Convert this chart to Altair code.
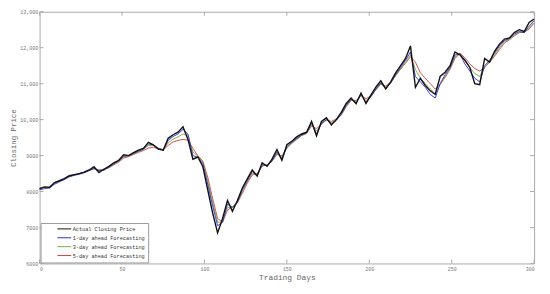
import altair as alt
import pandas as pd

days = list(range(0, 301, 3))

actual = [8080, 8130, 8110, 8250, 8300, 8360, 8440, 8470, 8500, 8540,
          8600, 8690, 8530, 8620, 8700, 8800, 8870, 9020, 9000, 9080,
          9150, 9200, 9370, 9300, 9180, 9150, 9480, 9580, 9650, 9800,
          9450, 8900, 8960, 8700, 8050, 7400, 6850, 7250, 7750, 7450,
          7750, 8100, 8350, 8600, 8430, 8800, 8700, 8900, 9170, 8870,
          9300, 9400, 9520, 9600, 9650, 9950, 9550, 9950, 10050, 9850,
          10000, 10200, 10450, 10600, 10440, 10740, 10450, 10680, 10900, 11080,
          10850, 11050, 11300, 11500, 11700, 12050, 10900, 11150, 10950, 10800,
          10700, 11200, 11320, 11500, 11880, 11800, 11650, 11450, 11000, 10970,
          11700, 11600, 11900, 12100, 12240, 12270, 12420, 12500, 12450, 12700,
          12800]

fc1 = [8050, 8080, 8100, 8200, 8270, 8330, 8410, 8450, 8480, 8520,
       8580, 8650, 8580, 8590, 8680, 8770, 8850, 8980, 9000, 9060,
       9120, 9180, 9320, 9300, 9200, 9150, 9420, 9530, 9600, 9730,
       9600, 9000, 8950, 8780, 8200, 7600, 7050, 7150, 7650, 7550,
       7700, 8050, 8300, 8550, 8450, 8750, 8720, 8850, 9100, 8900,
       9250, 9370, 9480, 9570, 9630, 9900, 9600, 9900, 10000, 9880,
       9980, 10150, 10400, 10570, 10460, 10700, 10480, 10640, 10850, 11020,
       10870, 11020, 11250, 11450, 11650, 11880, 11200, 11050, 10900, 10700,
       10600, 11000, 11250, 11450, 11800, 11820, 11550, 11350, 11150, 11050,
       11500, 11650, 11850, 12050, 12200, 12250, 12380, 12450, 12420, 12600,
       12750]

fc3 = [8070, 8110, 8120, 8220, 8290, 8340, 8420, 8460, 8490, 8530,
       8590, 8640, 8590, 8610, 8670, 8760, 8840, 8960, 8990, 9050,
       9110, 9170, 9280, 9280, 9210, 9170, 9350, 9460, 9520, 9600,
       9560, 9100, 8980, 8820, 8300, 7700, 7150, 7150, 7550, 7580,
       7700, 8000, 8270, 8500, 8480, 8720, 8730, 8840, 9060, 8950,
       9220, 9350, 9460, 9560, 9620, 9850, 9680, 9880, 9990, 9920,
       9990, 10130, 10370, 10550, 10500, 10680, 10530, 10640, 10830, 11000,
       10900, 11020, 11230, 11420, 11600, 11800, 11400, 11150, 11000, 10850,
       10720, 10980, 11200, 11420, 11750, 11820, 11650, 11450, 11280, 11200,
       11450, 11620, 11800, 12000, 12170, 12230, 12350, 12430, 12420, 12560,
       12700]

fc5 = [8090, 8120, 8130, 8230, 8300, 8350, 8420, 8460, 8500, 8530,
       8590, 8630, 8600, 8620, 8660, 8740, 8820, 8930, 8970, 9030,
       9090, 9140, 9210, 9230, 9190, 9160, 9280, 9380, 9420, 9450,
       9430, 9200, 9000, 8850, 8400, 7800, 7250, 7150, 7480, 7580,
       7680, 7950, 8230, 8460, 8500, 8700, 8750, 8840, 9030, 8990,
       9200, 9340, 9450, 9560, 9620, 9820, 9750, 9870, 9990, 9950,
       10020, 10130, 10360, 10530, 10530, 10670, 10580, 10660, 10830, 10990,
       10930, 11040, 11230, 11400, 11570, 11750, 11600, 11300, 11150, 11000,
       10850, 10980, 11170, 11400, 11700, 11850, 11720, 11550, 11420, 11350,
       11450, 11600, 11760, 11950, 12130, 12220, 12330, 12420, 12430, 12520,
       12680]

series_names = ["Actual Closing Price", "1-day ahead Forecasting",
                "3-day ahead Forecasting", "5-day ahead Forecasting"]
series_colors = ["#111111", "#2430d8", "#7aa83a", "#d83a3a"]
series_widths = [1.4, 0.9, 0.9, 0.9]
x_ticks = [0, 50, 100, 150, 200, 250, 300]
y_ticks = [6000, 7000, 8000, 9000, 10000, 11000, 12000, 13000]

W, H = 501, 255
MONO = "Liberation Mono"

frames = []
for name, vals in zip(series_names, [actual, fc1, fc3, fc5]):
    frames.append(pd.DataFrame({"day": days, "price": vals, "series": name}))
df = pd.concat(frames, ignore_index=True)

xscale = alt.Scale(domain=[0, 300], nice=False, zero=False)
yscale = alt.Scale(domain=[6000, 13000], nice=False, zero=False)
cscale = alt.Scale(domain=series_names, range=series_colors)

xaxis = alt.Axis(values=x_ticks, ticks=False, domain=False, grid=False,
                 labelFont=MONO, labelFontSize=5, labelColor="#777",
                 labelPadding=3, title="Trading Days", titleFont=MONO,
                 titleFontSize=8, titleFontWeight="normal", titleColor="#666",
                 titlePadding=2)
yaxis = alt.Axis(values=y_ticks, ticks=False, domain=False, grid=False,
                 labelFont=MONO, labelFontSize=5, labelColor="#777",
                 labelPadding=2,
                 labelExpr="datum.value >= 10000 ? format(datum.value, ',') : format(datum.value, 'd')",
                 title="Closing Price", titleFont=MONO, titleFontSize=7.5,
                 titleFontWeight="normal", titleColor="#666", titlePadding=2)

legend = alt.Legend(title=None, orient="bottom-left", offset=1,
                    labelFont=MONO, labelFontSize=5.3, labelColor="#333",
                    symbolType="M-2.8,0L2.8,0", symbolSize=25, symbolStrokeWidth=1,
                    strokeColor="#999", fillColor="white", padding=3,
                    rowPadding=2, labelOffset=5.5, symbolOffset=18)

layers = []
order_draw = [3, 2, 1, 0]
for i in order_draw:
    name = series_names[i]
    sub = df[df["series"] == name]
    layers.append(
        alt.Chart(sub).mark_line(strokeWidth=series_widths[i]).encode(
            x=alt.X("day:Q", scale=xscale, axis=xaxis),
            y=alt.Y("price:Q", scale=yscale, axis=yaxis),
            color=alt.Color("series:N", scale=cscale, legend=legend, sort=series_names),
        )
    )

xt = pd.DataFrame({"day": x_ticks})
yt = pd.DataFrame({"price": y_ticks})
tick_color = "#aaa"
bottom_ticks = alt.Chart(xt).mark_rule(color=tick_color).encode(
    x=alt.X("day:Q", scale=xscale, axis=xaxis), y=alt.value(H), y2=alt.value(H - 4))
top_ticks = alt.Chart(xt).mark_rule(color=tick_color).encode(
    x=alt.X("day:Q", scale=xscale, axis=xaxis), y=alt.value(0), y2=alt.value(4))
left_ticks = alt.Chart(yt).mark_rule(color=tick_color).encode(
    y=alt.Y("price:Q", scale=yscale, axis=yaxis), x=alt.value(0), x2=alt.value(4))
right_ticks = alt.Chart(yt).mark_rule(color=tick_color).encode(
    y=alt.Y("price:Q", scale=yscale, axis=yaxis), x=alt.value(W), x2=alt.value(W - 4))

chart = alt.layer(*layers, bottom_ticks, top_ticks, left_ticks, right_ticks).properties(
    width=W, height=H,
    autosize=alt.AutoSizeParams(type="none"),
    padding={"left": 32, "top": 2, "right": 8, "bottom": 17},
    background="white",
).configure_view(stroke="#aaa", strokeWidth=1)

chart.save("out.html", embed_options={"renderer": "svg", "actions": False})
